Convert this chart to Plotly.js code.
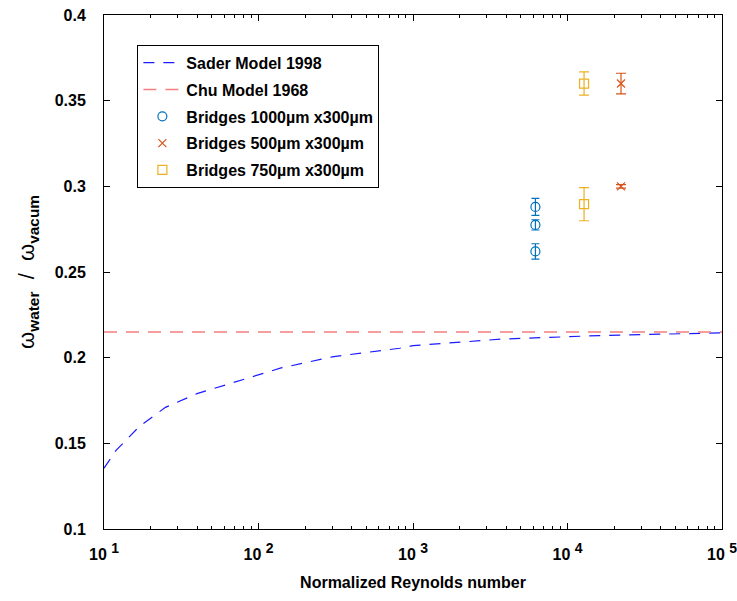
<!DOCTYPE html>
<html>
<head>
<meta charset="utf-8">
<script src="https://cdn.plot.ly/plotly-3.0.1.min.js"></script>
<style>
  html, body { margin: 0; padding: 0; background: #fff; }
  #chart { width: 737px; height: 601px; }
</style>
</head>
<body>
<div id="chart"></div>
<script>
// Sader (1998) model: frequency ratio versus normalized Reynolds number
const saderRe    = [10, 12, 17, 25, 40, 76, 140, 300, 820, 1000, 3700, 16000, 100000];
const saderRatio = [0.1355, 0.146, 0.160, 0.171, 0.179, 0.1865, 0.194, 0.2005, 0.2055, 0.207, 0.2108, 0.2129, 0.2145];

// Chu (1968) model: constant ratio
const chuRe    = [10, 100000];
const chuRatio = [0.215, 0.215];

// Measured bridges
const b1000Re    = [6200, 6200, 6200];
const b1000Ratio = [0.288, 0.2775, 0.262];
const b1000Err   = [0.005, 0.003, 0.0045];

const b500Re    = [22200, 22200];
const b500Ratio = [0.360, 0.300];
const b500Err   = [0.006, 0.001];

const b750Re    = [12800, 12800];
const b750Ratio = [0.360, 0.2896];
const b750Err   = [0.0068, 0.0097];

const xTickVals = [10, 100, 1000, 10000, 100000];
const xTickExp  = ['1', '2', '3', '4', '5'];
const yTickVals = [0.1, 0.15, 0.2, 0.25, 0.3, 0.35, 0.4];
const yTickText = ['0.1', '0.15', '0.2', '0.25', '0.3', '0.35', '0.4'];

// MATLAB-style "10 ^n" labels
const xTickText = xTickExp.map(e => '10 <sup><span style="font-size:14px">' + e + '</span></sup>');

// minor ticks at 2..9 within each decade
const xMinorVals = [];
for (let d = 10; d < 100000; d *= 10) {
  for (let k = 2; k <= 9; k++) xMinorVals.push(k * d);
}

const FONT = 'Liberation Sans, Arial, Helvetica, sans-serif';

function errBar(arr, color, w) {
  return { type: 'data', array: arr, visible: true, color: color, thickness: 1.2, width: w };
}

const traces = [
  {
    x: saderRe, y: saderRatio, name: 'Sader Model 1998', mode: 'lines',
    line: { color: '#1a1aff', width: 1.2, dash: '11px,9px' },
    legendgroup: 'a'
  },
  {
    x: chuRe, y: chuRatio, name: 'Chu Model 1968', mode: 'lines',
    line: { color: '#f47f7f', width: 1.6, dash: '13px,9px' },
    legendgroup: 'b'
  },
  {
    x: b1000Re, y: b1000Ratio, name: 'Bridges 1000µm x300µm', mode: 'markers',
    marker: { symbol: 'circle-open', size: 9, color: '#0072BD', line: { width: 1.2 } },
    error_y: errBar(b1000Err, '#0072BD', 4),
    legendgroup: 'c'
  },
  {
    x: b500Re, y: b500Ratio, name: 'Bridges 500µm x300µm', mode: 'markers',
    marker: { symbol: 'x-thin-open', size: 8, color: '#D95319', line: { width: 1.2, color: '#D95319' } },
    error_y: errBar(b500Err, '#D95319', 5),
    legendgroup: 'd'
  },
  {
    x: b750Re, y: b750Ratio, name: 'Bridges 750µm x300µm', mode: 'markers',
    marker: { symbol: 'square-open', size: 9, color: '#EDB120', line: { width: 1.2 } },
    error_y: errBar(b750Err, '#EDB120', 5),
    legendgroup: 'e'
  }
];

const layout = {
  width: 737, height: 601,
  margin: { l: 104, r: 15, t: 15, b: 72 },
  paper_bgcolor: '#fff', plot_bgcolor: '#fff',
  font: { family: FONT, size: 16, color: '#000', weight: 'bold' },
  showlegend: true,
  legend: {
    x: 0.054, y: 0.942, xanchor: 'left', yanchor: 'top',
    bgcolor: '#fff', bordercolor: '#000', borderwidth: 1,
    font: { family: FONT, size: 16, color: '#000', weight: 'bold' },
    tracegroupgap: 3, traceorder: 'grouped', itemwidth: 38
  },
  xaxis: {
    type: 'log', range: [1, 5],
    tickmode: 'array', tickvals: xTickVals, ticktext: xTickText,
    ticks: 'inside', ticklen: 6, tickwidth: 1, tickcolor: '#000',
    minor: { tickmode: 'array', tickvals: xMinorVals, ticks: 'inside', ticklen: 3, tickwidth: 1, tickcolor: '#000', showgrid: false },
    showgrid: false, zeroline: false,
    showline: true, linecolor: '#000', linewidth: 1, mirror: 'allticks',
    ticklabelstandoff: 11, ticklabeloverflow: 'allow',
    tickfont: { family: FONT, size: 16, color: '#000', weight: 'bold' },
    title: { text: 'Normalized Reynolds number', font: { family: FONT, size: 16, color: '#000', weight: 'bold' }, standoff: 14 }
  },
  yaxis: {
    range: [0.1, 0.4],
    tickvals: yTickVals, ticktext: yTickText,
    ticks: 'inside', ticklen: 6, tickwidth: 1, tickcolor: '#000',
    showgrid: false, zeroline: false,
    showline: true, linecolor: '#000', linewidth: 1, mirror: 'allticks',
    ticklabelstandoff: 14,
    tickfont: { family: FONT, size: 16, color: '#000', weight: 'bold' },
    title: {
      text: '<span style="font-weight:normal">ω</span><sub>water</sub>  <span style="font-weight:normal">/</span>  <span style="font-weight:normal">ω</span><sub>vacum</sub>',
      font: { family: FONT, size: 22, color: '#000', weight: 'bold' }, standoff: 13
    }
  }
};

Plotly.newPlot('chart', traces, layout, { displayModeBar: false, staticPlot: true });
</script>
</body>
</html>
